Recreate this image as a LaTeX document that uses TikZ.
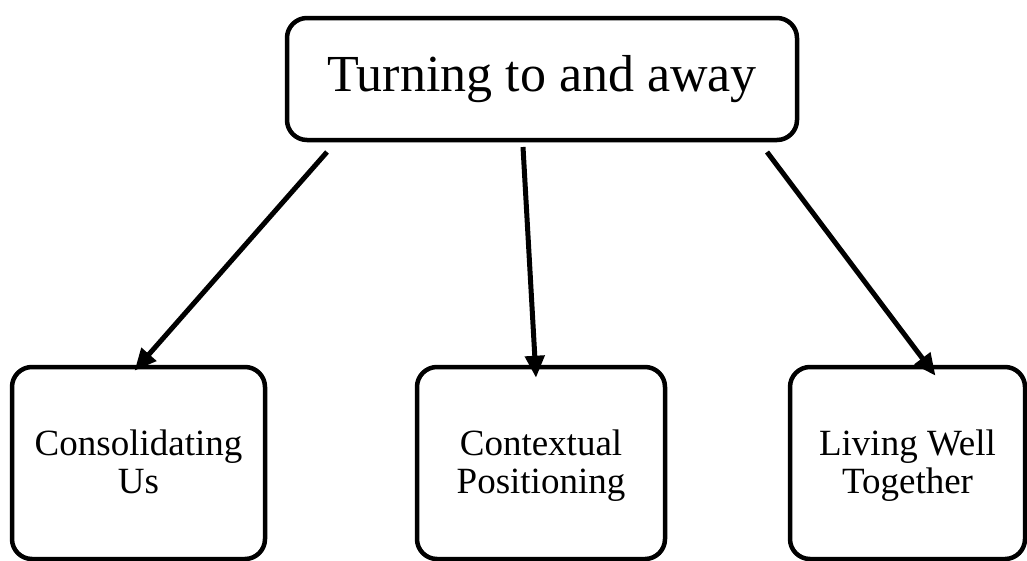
\documentclass[tikz,border=0pt]{standalone}
\usepackage{fontspec}
\setmainfont{Liberation Serif}
\usetikzlibrary{positioning}
\usetikzlibrary{arrows.meta,calc}
\tikzstyle{topbox}=[rectangle,rounded corners=20pt,draw,line width=4.5pt,minimum width=510pt,minimum height=122pt,inner sep=0pt,font=\fontsize{52}{60}\selectfont]
\tikzstyle{themebox}=[rectangle,rounded corners=20pt,draw,line width=4.5pt,minimum height=192pt,inner sep=0pt]
\tikzstyle{themetext}=[align=center,inner sep=0pt,font=\fontsize{37}{38}\selectfont]
\tikzstyle{link}=[line width=5pt,-{Triangle[length=22pt,width=19pt]}]

\begin{document}
\begin{tikzpicture}[x=1pt,y=-1pt]
\useasboundingbox (0,0) rectangle (1027,560);

%top
\node[topbox] (turn) at (542,79) {Turning to and away};

%themes
    \foreach \pos/\name/\boxw/\label in {{(138.5,463)/cons/253/{Consolidating\strut\\Us\strut}}, {(541,463)/context/248/{Contextual\strut\\Positioning\strut}}, {(907.5,463)/living/235/{Living Well\strut\\Together\strut}}}
    {
        \node[themebox,minimum width=\boxw pt] (\name) at \pos {};
        \node[themetext] (\name-text) at ($(\name.center)+(0,4)$) {\label};
    }

%links
\coordinate (s1) at (327,152);
\coordinate (s2) at (523,147);
\coordinate (s3) at (767,152);
\coordinate (e1) at ($(cons.north)+(-4,6)$);
\coordinate (e2) at ($(context.north)+(-5,13)$);
\coordinate (e3) at ($(living.north)+(28,11)$);
  \foreach \source/ \dest in {s1/e1, s2/e2, s3/e3}
          \draw[link] (\source) -- (\dest);

\end{tikzpicture}
\end{document}
